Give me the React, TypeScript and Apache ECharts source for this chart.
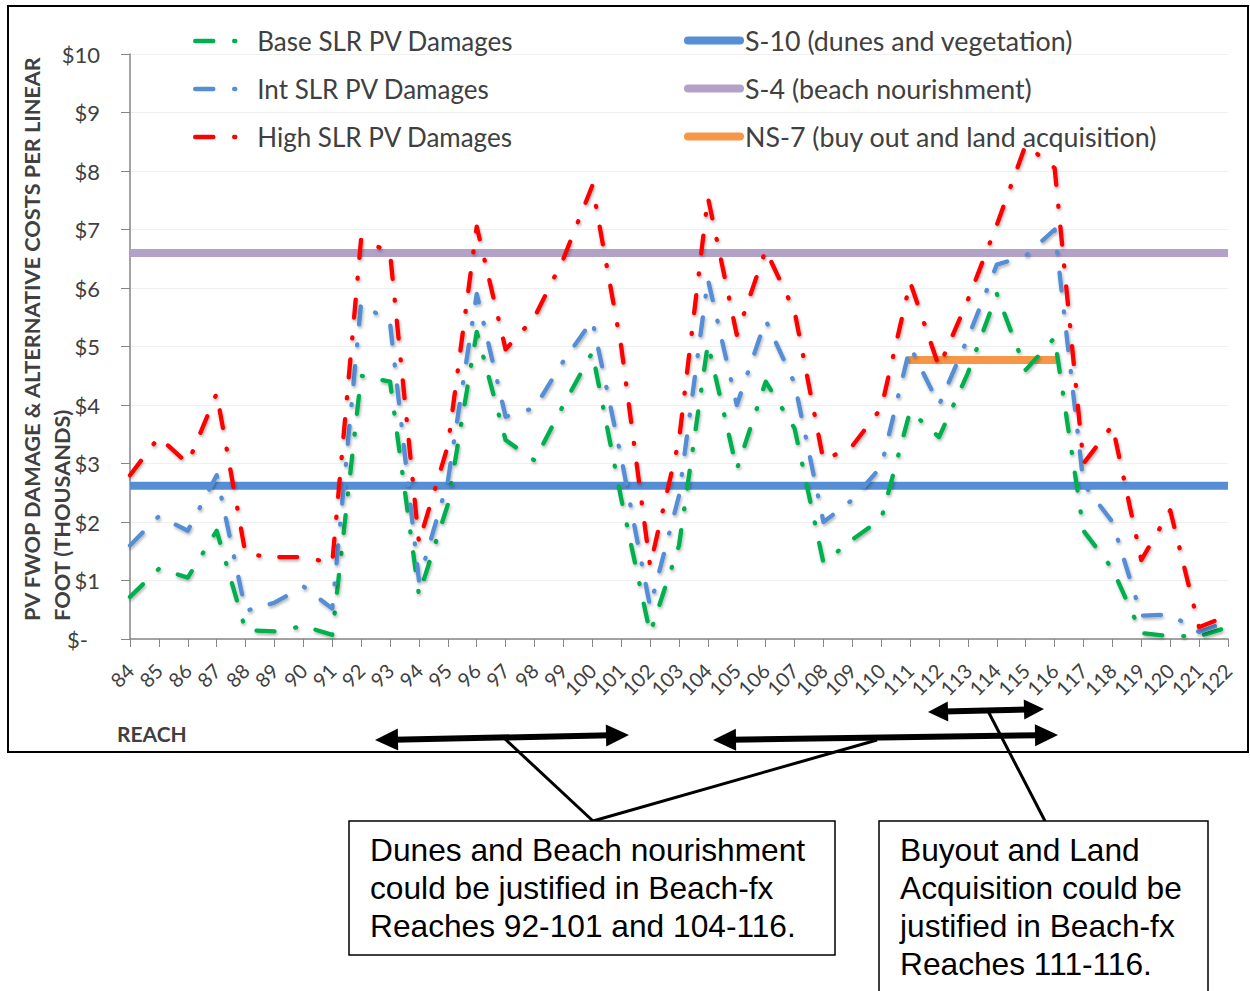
import React, { useEffect, useRef } from "react";
import * as echarts from "echarts";

const reaches = [
  "84", "85", "86", "87", "88", "89", "90", "91", "92", "93", "94", "95", "96",
  "97", "98", "99", "100", "101", "102", "103", "104", "105", "106", "107", "108",
  "109", "110", "111", "112", "113", "114", "115", "116", "117", "118", "119",
  "120", "121", "122",
];

const baseSlrDamages = [
  0.72, 1.2, 1.05, 1.85, 0.15, 0.13, 0.22, 0.07,
  4.5, 4.4, 0.75, 2.3, 5.25, 3.4, 3.05, 4.0,
  4.9, 2.4, 0.1, 1.6, 5.05, 2.9, 4.4, 3.6,
  1.3, 1.7, 2.05, 3.9, 3.45, 4.55, 5.9, 4.6,
  5.15, 1.85, 1.2, 0.1, 0.05, 0.05, 0.2,
];

const intSlrDamages = [
  1.6, 2.1, 1.85, 2.8, 0.48, 0.62, 0.9, 0.52,
  5.75, 5.4, 1.0, 2.7, 5.9, 3.8, 3.95, 4.75,
  5.45, 3.1, 0.55, 2.45, 6.15, 4.0, 5.45, 4.37,
  2.0, 2.38, 2.95, 5.0, 4.0, 5.15, 6.4, 6.55,
  7.0, 2.65, 2.0, 0.4, 0.42, 0.12, 0.3,
];

const highSlrDamages = [
  2.8, 3.45, 3.0, 4.2, 1.45, 1.4, 1.4, 1.3,
  6.85, 6.6, 1.65, 3.3, 7.05, 4.95, 5.5, 6.5,
  7.75, 5.0, 1.25, 3.4, 7.55, 5.2, 6.65, 5.6,
  3.05, 3.3, 3.95, 6.1, 4.65, 5.8, 7.08, 8.45,
  8.05, 3.0, 3.65, 1.35, 2.2, 0.2, 0.4,
];

// Alternative costs per linear foot (thousands)
const S10_COST = 2.62; // dunes and vegetation, all reaches
const S4_COST = 6.6; // beach nourishment, all reaches
const NS7_COST = 4.77; // buy out and land acquisition
const NS7_REACHES = ["111", "112", "113", "114", "115", "116"];

const yTickValues = [0, 1, 2, 3, 4, 5, 6, 7, 8, 9, 10];

const seriesNames = {
  base: "Base SLR PV Damages",
  int: "Int SLR PV Damages",
  high: "High SLR PV Damages",
  s10: "S-10 (dunes and vegetation)",
  s4: "S-4 (beach nourishment)",
  ns7: "NS-7 (buy out and land acquisition)",
};

const boxText1 = [
  "Dunes and Beach nourishment",
  "could be justified in Beach-fx",
  "Reaches 92-101 and 104-116.",
];
const boxText2 = [
  "Buyout and Land",
  "Acquisition could be",
  "justified in Beach-fx",
  "Reaches 111-116.",
];

const FONT = "Lato, 'Noto Sans', sans-serif";
const BOX_FONT = "'Liberation Sans', Arial, sans-serif";
const TEXT_COLOR = "#404040";

const DASH_DOT = [18, 21, 1, 20];

function dataLine(name: string, color: string, data: number[], z: number) {
  return {
    type: "line",
    name,
    data,
    symbol: "none",
    z,
    itemStyle: { color },
    lineStyle: {
      color,
      width: 4.3,
      type: DASH_DOT,
      cap: "round",
      join: "round",
      shadowColor: "rgba(0,0,0,0.3)",
      shadowBlur: 3,
      shadowOffsetX: 1,
      shadowOffsetY: 2,
    },
  };
}

function flatLine(name: string, color: string, data: (number | null)[], cap: string) {
  return {
    type: "line",
    name,
    data,
    symbol: "none",
    z: 1,
    itemStyle: { color },
    lineStyle: {
      color,
      width: 8,
      cap,
    },
  };
}

function doubleArrow(x1: number, y1: number, x2: number, y2: number, L: number, W: number) {
  const dx = x2 - x1;
  const dy = y2 - y1;
  const len = Math.sqrt(dx * dx + dy * dy);
  const ux = dx / len;
  const uy = dy / len;
  const nx = -uy;
  const ny = ux;
  const head = (tx: number, ty: number, sx: number, sy: number) => ({
    type: "polygon",
    silent: true,
    shape: {
      points: [
        [tx, ty],
        [tx - sx * L + nx * W, ty - sy * L + ny * W],
        [tx - sx * L - nx * W, ty - sy * L - ny * W],
      ],
    },
    style: { fill: "#000" },
  });
  return [
    {
      type: "line",
      silent: true,
      shape: {
        x1: x1 + ux * L * 0.8,
        y1: y1 + uy * L * 0.8,
        x2: x2 - ux * L * 0.8,
        y2: y2 - uy * L * 0.8,
      },
      style: { stroke: "#000", lineWidth: 6 },
    },
    head(x2, y2, ux, uy),
    head(x1, y1, -ux, -uy),
  ];
}

function leader(x1: number, y1: number, x2: number, y2: number) {
  return {
    type: "line",
    silent: true,
    shape: { x1, y1, x2, y2 },
    style: { stroke: "#000", lineWidth: 3 },
  };
}

export default function App() {
  const ref = useRef<HTMLDivElement>(null);

  useEffect(() => {
    document.body.style.margin = "0";
    if (!ref.current) return;
    const chart = echarts.init(ref.current, null, { renderer: "svg" });

    const s10Data = reaches.map(() => S10_COST);
    const s4Data = reaches.map(() => S4_COST);
    const ns7Data = reaches.map((r) => (NS7_REACHES.includes(r) ? NS7_COST : null));

    const textEl = (x: number, y: number, text: string, size: number, weight: string, rotation = 0, family = FONT, color = TEXT_COLOR, lineHeight?: number, vAlign = "middle") => ({
      type: "text",
      silent: true,
      x,
      y,
      rotation,
      style: {
        text,
        fontSize: size,
        fontWeight: weight,
        fontFamily: family,
        fill: color,
        lineHeight: lineHeight || size * 1.2,
        align: "left",
        textAlign: "left",
        verticalAlign: vAlign,
        textVerticalAlign: vAlign,
      },
    });

    const graphic: any[] = [
      {
        type: "rect",
        silent: true,
        shape: { x: 8, y: 6, width: 1240, height: 746 },
        style: { fill: "none", stroke: "#000", lineWidth: 2 },
      },
      textEl(32, 621, "PV FWOP DAMAGE & ALTERNATIVE COSTS PER LINEAR", 21.7, "bold", Math.PI / 2),
      textEl(62, 621, "FOOT (THOUSANDS)", 21.7, "bold", Math.PI / 2),
      textEl(117, 733, "REACH", 21, "bold"),
      ...doubleArrow(375, 740, 629, 735, 23, 11),
      ...doubleArrow(713, 740, 1058, 735, 23, 11),
      ...doubleArrow(928, 712, 1044, 709, 20, 10),
      leader(505, 739, 593, 821),
      leader(877, 740, 593, 821),
      leader(988, 711, 1045, 821),
      {
        type: "rect",
        silent: true,
        shape: { x: 349, y: 821, width: 486, height: 134 },
        style: { fill: "#fff", stroke: "#000", lineWidth: 1.5 },
      },
      {
        type: "rect",
        silent: true,
        shape: { x: 879, y: 821, width: 329, height: 180 },
        style: { fill: "#fff", stroke: "#000", lineWidth: 1.5 },
      },
      textEl(370, 831, boxText1.join("\n"), 31.7, "normal", 0, BOX_FONT, "#000", 38, "top"),
      textEl(900, 831, boxText2.join("\n"), 31.7, "normal", 0, BOX_FONT, "#000", 38, "top"),
    ];

    const legendCommon = {
      orient: "vertical",
      top: 28,
      padding: 0,
      itemHeight: 26,
      itemGap: 22,
      textStyle: { fontFamily: FONT, fontSize: 26, color: TEXT_COLOR, lineHeight: 26 },
      itemStyle: { opacity: 0 },
      selectedMode: false,
    };

    chart.setOption({
      animation: false,
      backgroundColor: "#fff",
      textStyle: { fontFamily: FONT },
      legend: [
        {
          ...legendCommon,
          left: 193,
          itemWidth: 57,
          lineStyle: { width: 4.5, cap: "round" },
          data: [seriesNames.base, seriesNames.int, seriesNames.high],
        },
        {
          ...legendCommon,
          left: 684,
          top: 27,
          itemWidth: 52,
          itemGap: 21,
          textStyle: { ...legendCommon.textStyle, fontSize: 26.8, lineHeight: 26 },
          lineStyle: { width: 8, cap: "round" },
          data: [seriesNames.s10, seriesNames.s4, seriesNames.ns7],
        },
      ],
      grid: { left: 130, right: 22, top: 54, bottom: 352, containLabel: false },
      xAxis: {
        type: "category",
        data: reaches,
        boundaryGap: false,
        axisLine: { lineStyle: { color: "#868686", width: 1.5 } },
        axisTick: { show: true, length: 8, interval: 0, lineStyle: { color: "#868686" } },
        axisLabel: {
          interval: 0,
          rotate: 45,
          margin: 28,
          fontSize: 20,
          fontFamily: FONT,
          color: TEXT_COLOR,
        },
        splitLine: { show: false },
      },
      yAxis: {
        type: "value",
        min: yTickValues[0],
        max: yTickValues[yTickValues.length - 1],
        interval: 1,
        axisLine: { show: true, lineStyle: { color: "#868686", width: 1.5 } },
        axisTick: { show: true, length: 9, lineStyle: { color: "#868686" } },
        axisLabel: {
          margin: 30,
          fontSize: 22,
          fontFamily: FONT,
          color: TEXT_COLOR,
          formatter: (v: number) => (v === 0 ? "{d|$-}" : "$" + v),
          rich: {
            d: { fontSize: 22, fontFamily: FONT, color: TEXT_COLOR, padding: [0, 12, 0, 0] },
          },
        },
        splitLine: { show: true, lineStyle: { color: "#F0F0F0", width: 1 } },
      },
      graphic,
      series: [
        flatLine(seriesNames.s10, "#558ED5", s10Data, "butt"),
        flatLine(seriesNames.s4, "#B3A2C7", s4Data, "butt"),
        flatLine(seriesNames.ns7, "#F79646", ns7Data, "round"),
        dataLine(seriesNames.base, "#00B050", baseSlrDamages, 3),
        dataLine(seriesNames.int, "#558ED5", intSlrDamages, 4),
        dataLine(seriesNames.high, "#FF0000", highSlrDamages, 5),
      ],
    });

    return () => {
      chart.dispose();
    };
  }, []);

  return <div ref={ref} style={{ width: 1250, height: 991 }} />;
}
